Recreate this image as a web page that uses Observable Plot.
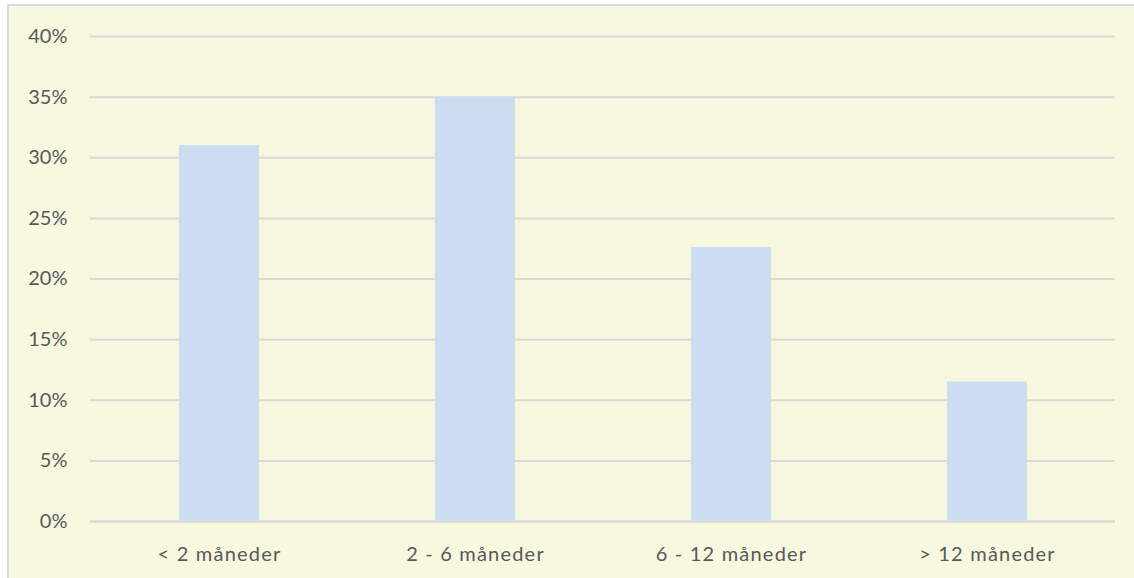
<!DOCTYPE html>
<html><head><meta charset="utf-8">
<script src="https://cdn.jsdelivr.net/npm/d3@7"></script>
<script src="https://cdn.jsdelivr.net/npm/@observablehq/plot@0.6"></script>
<style>
body{margin:0;background:#fff;overflow:hidden;}
#panel{position:absolute;left:7px;top:4px;width:1127px;height:574px;background:#F8F7E0;border-left:2px solid #D9D9D9;border-top:2px solid #D9D9D9;}
#chart{position:absolute;left:0;top:0;}
#chart g[aria-label="x-axis tick label"] text{letter-spacing:1.2px;}
</style></head><body>
<div id="panel"></div><div id="chart"></div>
<script>
const categories = ["< 2 måneder", "2 - 6 måneder", "6 - 12 måneder", "> 12 måneder"];
const values = [0.31, 0.35, 0.226, 0.115];
const yTicks = [0, 0.05, 0.10, 0.15, 0.20, 0.25, 0.30, 0.35, 0.40];
const data = categories.map((c, i) => ({category: c, value: values[i]}));

const plot = Plot.plot({
  width: 1134,
  height: 578,
  marginLeft: 90,
  marginRight: 19,
  marginTop: 36,
  marginBottom: 57,
  style: {background: "transparent", fontFamily: "Lato, 'Open Sans', sans-serif", fontSize: "20px", color: "#595959"},
  x: {domain: categories, paddingInner: 0.688, paddingOuter: 0.344, label: null},
  y: {domain: [0, 0.4], label: null},
  marks: [
    Plot.gridY(yTicks, {stroke: "#D9D9D9", strokeOpacity: 1, strokeWidth: 2}),
    Plot.barY(data, {x: "category", y: "value", fill: "#CCDDF2"}),
    Plot.ruleY([0], {stroke: "#D9D9D9", strokeWidth: 2}),
    Plot.axisX({tickSize: 0, tickPadding: 25, label: null, fill: "#595959", fontSize: 20}),
    Plot.axisY(yTicks, {tickSize: 0, tickPadding: 23, label: null, fill: "#595959", fontSize: 20, tickFormat: d => Math.round(d * 100) + "%"})
  ]
});
document.getElementById("chart").appendChild(plot);
</script>
</body></html>
